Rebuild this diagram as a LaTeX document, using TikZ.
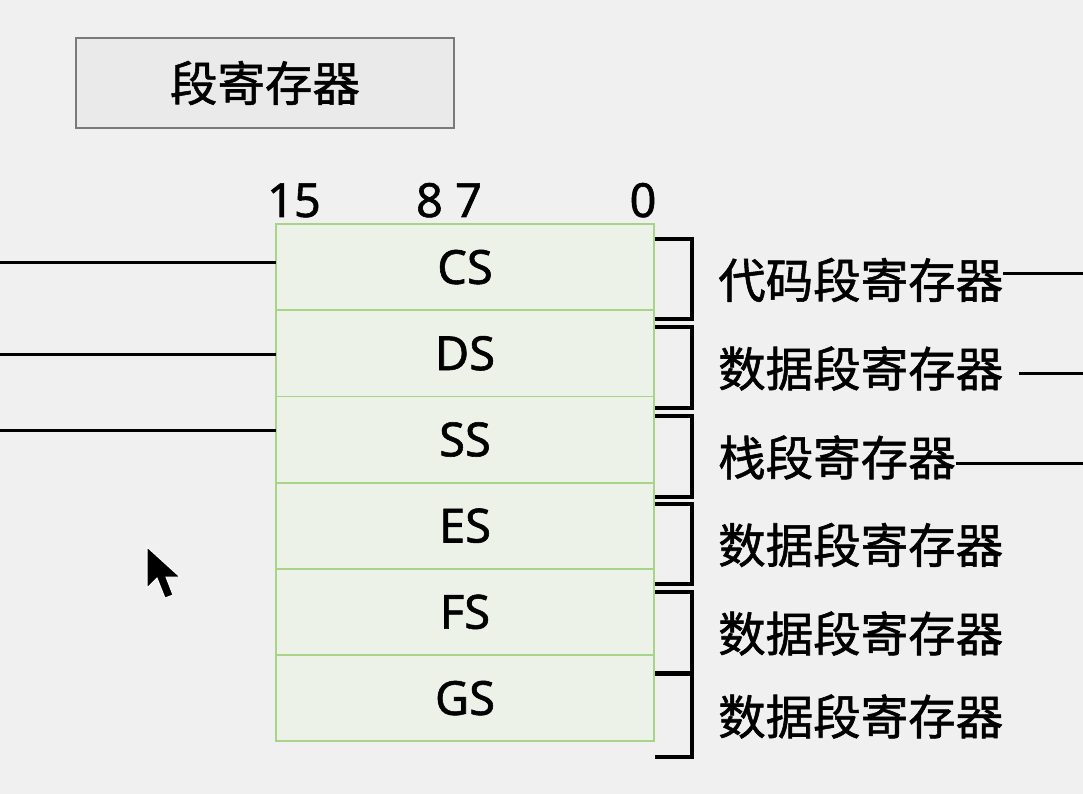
\documentclass[tikz,border=0pt]{standalone}
\usepackage{fontspec}
\setmainfont[FakeBold=1.2]{Noto Sans}
\newfontfamily\cjk[FakeBold=1.2]{Noto Sans CJK SC}
\usetikzlibrary{calc,positioning}
\definecolor{hintergrund}{RGB}{240,240,240}
\definecolor{titelrand}{RGB}{122,122,122}
\definecolor{titelfill}{RGB}{234,234,234}
\definecolor{regrand}{RGB}{168,212,138}
\definecolor{regfill}{RGB}{236,242,232}

\begin{document}
\begin{tikzpicture}[
    x=1pt, y=-1pt,
    font=\fontsize{47}{50}\selectfont,
    titel/.style   = {draw=titelrand, fill=titelfill, line width=1.8pt, minimum width=378pt, minimum height=90pt, font=\cjk\fontsize{47.5}{50}\selectfont},
    reg/.style     = {draw=regrand, fill=regfill, line width=1.8pt, minimum width=378pt, minimum height=86.2pt, outer sep=0pt, inner sep=0pt},
    bit/.style     = {anchor=base, inner sep=0pt},
    regname/.style = {anchor=west, inner sep=0pt, font=\cjk\fontsize{47.5}{50}\selectfont},
    linie/.style   = {line width=3pt},
  ]
	\fill[hintergrund] (0,0) rectangle (1083,794);
	\useasboundingbox (0,0) rectangle (1083,794);
	
	% Titel
	\node (T) at (265,83) [titel] {段寄存器};
	
	% Bitnummern
	\node (B15) at (294,217) [bit] {15};
	\node (B87) at (449,217) [bit] {8 7};
	\node (B0) at (643,217) [bit] {0};
	
	% Register
	\node (CS) at (465,267.1) [reg] {CS};
	\node (DS) [reg, below=0pt of CS] {DS};
	\node (SS) [reg, below=0pt of DS] {SS};
	\node (ES) [reg, below=0pt of SS] {ES};
	\node (FS) [reg, below=0pt of ES] {FS};
	\node (GS) [reg, below=0pt of FS] {GS};
	
	% Klammern und Namen
	\foreach \oben/\unten/\bez [count=\i] in {239/319/代码段寄存器, 327/408/数据段寄存器, 416/497/栈段寄存器, 504/584/数据段寄存器, 592/673/数据段寄存器, 674/757/数据段寄存器}
	{
		\draw[linie, line width=3.3pt] (655,\oben) -| (692,\unten) -- (655,\unten);
		\node (N\i) at (718,{(\oben+\unten)/2+1}) [regname] {\bez};
	}
	
	% Linien links
	\coordinate (L1) at (0,262);
	\coordinate (L2) at (0,354);
	\coordinate (L3) at (0,430);
	\draw[linie] (L1) -- (L1 -| CS.west);
	\draw[linie] (L2) -- (L2 -| DS.west);
	\draw[linie] (L3) -- (L3 -| SS.west);
	
	% Linien rechts
	\coordinate (R1) at (1083,273);
	\coordinate (R2) at (1083,373);
	\coordinate (R3) at (1083,463);
	\draw[linie] (N1.east |- R1) -- (R1);
	\draw[linie] ([xshift=16pt]N2.east |- R2) -- (R2);
	\draw[linie] (N3.east |- R3) -- (R3);
	
	% Mauszeiger
	\fill[black, draw=white, line width=1pt] (147,547) -- (147,588) -- (157,578) -- (165,598) -- (173,595) -- (166,577) -- (180,577) -- cycle;
	
\end{tikzpicture}
\end{document}
